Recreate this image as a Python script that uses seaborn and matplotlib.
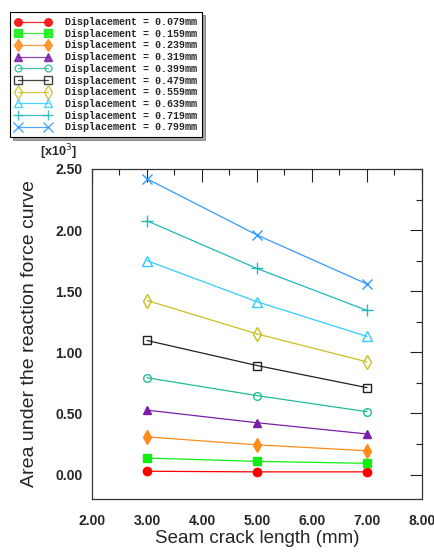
import matplotlib
matplotlib.use("Agg")
import matplotlib.pyplot as plt
import seaborn as sns
import pandas as pd
from matplotlib.ticker import MultipleLocator, FormatStrFormatter

crack_length = [3.0, 5.0, 7.0]
displacements = ["0.079", "0.159", "0.239", "0.319", "0.399",
                 "0.479", "0.559", "0.639", "0.719", "0.799"]
area_values = [
    [0.027, 0.022, 0.022],
    [0.135, 0.108, 0.092],
    [0.308, 0.243, 0.195],
    [0.527, 0.424, 0.332],
    [0.792, 0.646, 0.514],
    [1.097, 0.892, 0.711],
    [1.424, 1.151, 0.922],
    [1.750, 1.414, 1.130],
    [2.076, 1.686, 1.343],
    [2.420, 1.960, 1.559],
]
colors = ["#ff0000", "#11ee11", "#ff8c1a", "#7b1fa8", "#22bb99",
          "#222222", "#c8c020", "#33ccff", "#20b8b8", "#3399ff"]
markers = ["o", "s", "d", "^", "o", "s", "d", "^", "+", "x"]
filled = [True, True, True, True, False, False, False, False, True, True]
msizes = [6, 6.2, 7.2, 6, 5.5, 6.2, 7.5, 6.5, 8, 7.5]

rows = []
for d, vals in zip(displacements, area_values):
    for x, v in zip(crack_length, vals):
        rows.append({"disp": d, "x": x, "y": v})
df = pd.DataFrame(rows)

sns.set_style("white")
plt.rcParams["font.family"] = ["Liberation Sans", "DejaVu Sans"]

fig = plt.figure(figsize=(4.35, 5.54), dpi=100)
ax = fig.add_axes([92/435, 55/554, 330/435, 330/554])

for d, c, m, f, ms in zip(displacements, colors, markers, filled, msizes):
    sub = df[df["disp"] == d]
    kw = dict(markersize=ms, markeredgewidth=1.0, markeredgecolor=c)
    if f:
        kw["markerfacecolor"] = c
    else:
        kw["markerfacecolor"] = "none"
    sns.lineplot(data=sub, x="x", y="y", ax=ax, color=c, marker=m,
                 linewidth=0.9, label=f"Displacement = {d}mm", **kw)

ax.set_xlim(2.0, 8.0)
ax.set_ylim(-0.2, 2.5)
ax.xaxis.set_major_locator(MultipleLocator(1.0))
ax.xaxis.set_minor_locator(MultipleLocator(0.5))
ax.yaxis.set_major_locator(MultipleLocator(0.5))
ax.yaxis.set_minor_locator(MultipleLocator(0.25))
ax.xaxis.set_major_formatter(FormatStrFormatter("%.2f"))
ax.yaxis.set_major_formatter(FormatStrFormatter("%.2f"))
ax.tick_params(which="both", direction="in", top=True, right=True, color="#222222")
ax.tick_params(which="major", length=9, width=0.8)
ax.tick_params(which="minor", length=4.5, width=0.8)
ax.tick_params(axis="x", which="major", pad=11)
ax.tick_params(axis="y", which="major", pad=7)
for lab in ax.get_xticklabels() + ax.get_yticklabels():
    lab.set_fontweight("bold")
    lab.set_fontsize(10)
for s in ax.spines.values():
    s.set_color("#333333")
    s.set_linewidth(0.9)

ax.set_xlabel("Seam crack length (mm)", fontsize=13.5, labelpad=1)
ax.set_ylabel("Area under the reaction force curve", fontsize=14, labelpad=12)
fig.text(40/435, 1 - 152/554, r"[x10$^3$]", fontsize=9, fontweight="bold",
         va="center", ha="left")

h, l = ax.get_legend_handles_labels()
ax.get_legend().remove()
leg = fig.legend(h, l, loc="upper left", bbox_to_anchor=(10/435, 1 - 12/554),
                 bbox_transform=fig.transFigure, numpoints=2, markerscale=0.9,
                 prop={"family": "Liberation Mono", "size": 7.2, "weight": "bold"},
                 frameon=True, fancybox=False, shadow=True, edgecolor="black",
                 handlelength=3.6, labelspacing=0.17, borderpad=0.5,
                 handletextpad=1.4, borderaxespad=0)
leg.get_frame().set_linewidth(0.8)
for line in leg.get_lines():
    line.set_alpha(0.85)

fig.savefig("out.png", dpi=100)
